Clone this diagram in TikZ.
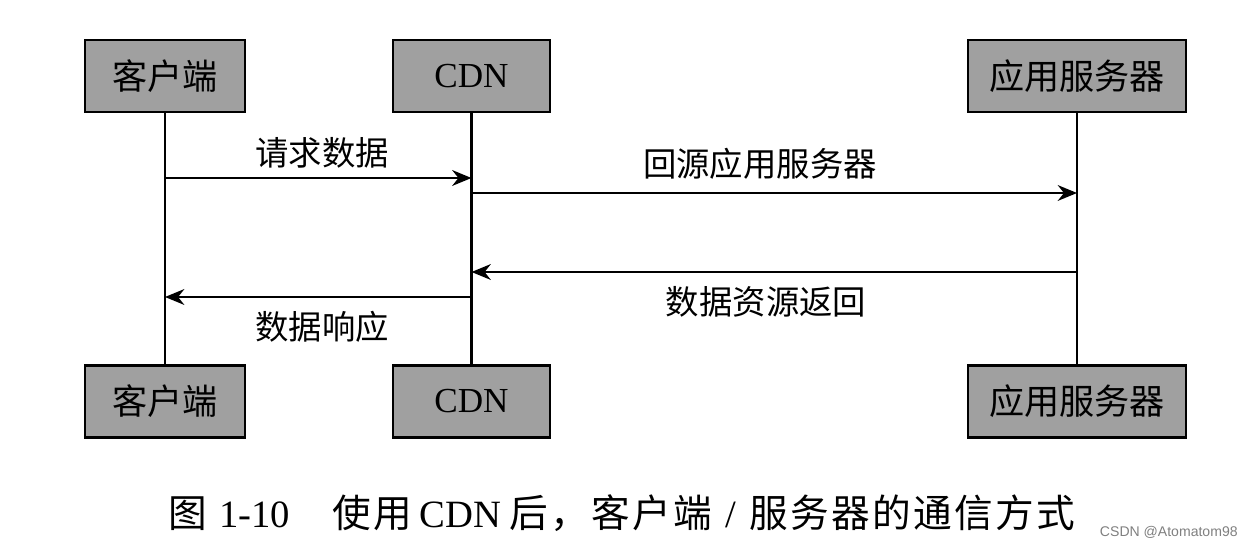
\documentclass[tikz,border=0pt]{standalone}
\usepackage{fontspec}
\setmainfont{Liberation Serif}
\newfontfamily\cjk{Noto Sans CJK SC}
\newfontfamily\cjkcap[LetterSpace=6]{Noto Sans CJK SC}
\newfontfamily\wmfont{Liberation Sans}
\usetikzlibrary{arrows.meta}
\definecolor{boxgray}{HTML}{A0A0A0}
\tikzset{
  actor/.style={draw=black, line width=1.6pt, fill=boxgray, minimum height=1.44cm,
    inner sep=0pt, font=\fontsize{20}{24}\selectfont},
  life/.style={line width=1.2pt, black},
  msg/.style={line width=1.2pt, -{Stealth[length=11pt,width=9pt]}},
  lbl/.style={font=\cjk\fontsize{19}{23}\selectfont, inner sep=0pt},
}
\begin{document}
\begin{tikzpicture}[x=0.02cm,y=-0.02cm]
\useasboundingbox[fill=white] (0,0) rectangle (1246,550);
% actors top
\node[actor, minimum width=3.2cm]  (ct) at (165,76) {\cjk 客户端};
\node[actor, minimum width=3.14cm] (dt) at (471.5,76) {CDN};
\node[actor, minimum width=4.36cm] (at) at (1077,76) {\cjk 应用服务器};
% actors bottom
\node[actor, minimum width=3.2cm]  (cb) at (165,401.5) {\cjk 客户端};
\node[actor, minimum width=3.14cm] (db) at (471.5,401.5) {CDN};
\node[actor, minimum width=4.36cm] (ab) at (1077,401.5) {\cjk 应用服务器};
% lifelines
\draw[life] (ct.south) -- (cb.north);
\draw[life] (dt.south) -- (db.north);
\draw[life] (at.south) -- (ab.north);
% message heights
\coordinate (m1) at (0,178);
\coordinate (m2) at (0,193);
\coordinate (m3) at (0,272);
\coordinate (m4) at (0,297);
% messages
\draw[msg] (ct.south |- m1) -- (dt.south |- m1);
\draw[msg] (dt.south |- m2) -- (at.south |- m2);
\draw[msg] (at.south |- m3) -- (dt.south |- m3);
\draw[msg] (dt.south |- m4) -- (ct.south |- m4);
% labels
\node[lbl] (l1) at (322,153) {请求数据};
\node[lbl] (l2) at (760,164) {回源应用服务器};
\node[lbl] (l3) at (766,302) {数据资源返回};
\node[lbl] (l4) at (322,327) {数据响应};
% caption
\node[font=\fontsize{22}{26}\selectfont, inner sep=0pt] (cap) at (622,513)
  {{\cjkcap 图}\hspace{0.3em}1-10\hspace{1.1em}{\cjkcap 使用}\hspace{0.2em}CDN\hspace{0.2em}{\cjkcap 后，客户端}\hspace{0.35em}/\hspace{0.35em}{\cjkcap 服务器的通信方式}};
\node[font=\wmfont\fontsize{8}{10}\selectfont, text=gray, inner sep=0pt, anchor=east] (wm) at (1238,532) {CSDN @Atomatom98};
\end{tikzpicture}
\end{document}
